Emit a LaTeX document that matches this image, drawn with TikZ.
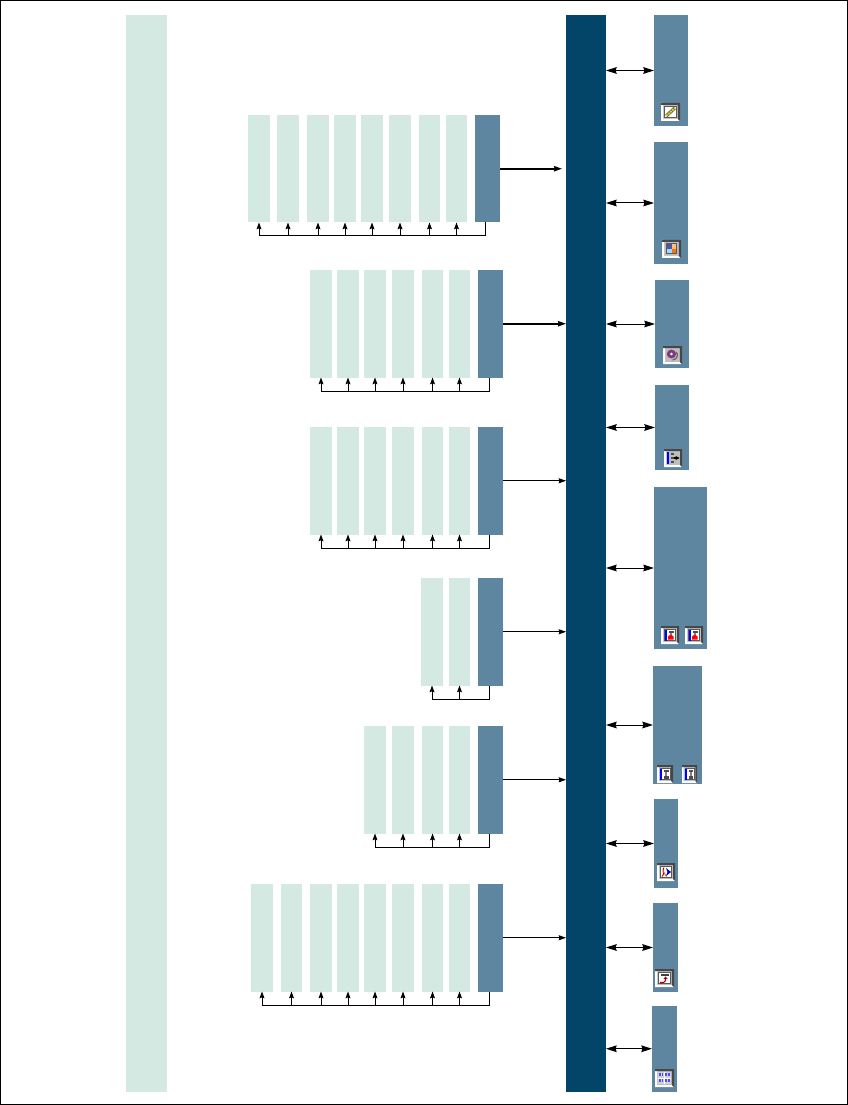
\documentclass[tikz,border=0pt]{standalone}
\usetikzlibrary{arrows.meta}
\definecolor{palegreen}{HTML}{D5E9E3}
\definecolor{steel}{HTML}{5F86A0}
\definecolor{navy}{HTML}{034569}
\definecolor{btngray}{HTML}{BEBEBE}
\tikzset{
  pale/.style={fill=palegreen, draw=none, inner sep=0pt, outer sep=0pt, anchor=north west},
  mid/.style={fill=steel, draw=none, inner sep=0pt, outer sep=0pt, anchor=north west},
  dark/.style={fill=navy, draw=none, inner sep=0pt, outer sep=0pt, anchor=north west},
  feed/.style={line width=0.75pt, -{Stealth[length=5pt,width=3.6pt,inset=0.6pt]}},
  feedline/.style={line width=0.75pt},
  outarrow/.style={line width=0.75pt, -{Stealth[length=5.5pt,width=3.8pt,inset=0.6pt]}},
  outthick/.style={line width=1.5pt, -{Stealth[length=6pt,width=4pt,inset=0.6pt]}},
  linkarrow/.style={line width=0.75pt, {Stealth[length=8pt,width=5pt,inset=0.8pt]}-{Stealth[length=8pt,width=5pt,inset=0.8pt]}},
  glyphbox/.style={draw=black!65, line width=0.5pt, fill=white},
}
% block from its left, top, right, bottom edges
\newcommand{\blk}[6]{\node[#1, minimum width={(#5-#3)*0.75pt}, minimum height={(#6-#4)*0.75pt}] (#2) at (#3,#4) {};}
% row of columns, steel head block and the line feeding back to the columns
\newcommand{\colrow}[6]{%
  \blk{mid}{#1d}{#3}{#2}{#4}{#2+107.5}
  \coordinate (#1f) at (#5,#2+121);
  \draw[feedline] (#1d.south -| #1f) -- (#1f);
  \foreach \xa/\xb [count=\i] in {#6} {
    \blk{pale}{#1c\i}{\xa}{#2}{\xb}{#2+107.5}
    \draw[feed] (#1c\i.south |- #1f) -- (#1c\i.south);
  }
  \draw[feedline] (#1f) -- (#1c1.south |- #1f);
}
% tool button, glyph drawn in a local 18 by 18 box
\newcommand{\toolbtn}[5]{%
  \begin{scope}[shift={(#1,#2)}, x=#3*0.75pt/18, y=-#4*0.75pt/18]
    \fill[btngray] (0,0) rectangle (18,18);
    \fill[white] (0,0) -- (0,18) -- (18,18) -- (16,16) -- (2,16) -- (2,0) -- cycle;
    \fill[black!72] (0,0) -- (18,0) -- (18,18) -- (16,16) -- (16,2) -- (0,2) -- cycle;
    #5
  \end{scope}}
\begin{document}
\begin{tikzpicture}[x=0.75pt, y=-0.75pt]
  \useasboundingbox (0,0) rectangle (848,1105);
  \fill[white] (0,0) rectangle (848,1105);
  % Outer frame
  \draw[line width=0.75pt] (0.5,0.5) rectangle (847.5,1104.5);
  % Tall bars
  \blk{pale}{leftbar}{126}{15}{167}{1091.5}
  \blk{dark}{bus}{566}{15}{606}{1091.5}
  % Rows of columns
  \colrow{rowa}{115}{475}{500}{485.5}{248/270,277/299,307/329,334/356,361/383,389/411,419/440,446/467}
  \colrow{rowb}{270}{478}{503}{489.5}{310/332,337/359,364/386,392/414,422/443,449/470}
  \colrow{rowc}{427}{478}{503}{489.5}{310/332,337/359,364/386,392/414,422/443,449/470}
  \colrow{rowd}{578}{478}{503}{489.5}{421/443,449/470}
  \colrow{rowe}{726}{478}{503}{489.5}{364/386,392/414,422/443,449/470}
  \colrow{rowf}{884}{478}{503}{489.5}{251/273,281/302,310/332,337/359,364/386,392/414,422/443,449/470}
  % Arrows from rows to bus
  \draw[outthick, shorten >=3pt] (rowad.east) -- (bus.west |- rowad.east);
  \draw[outthick] (rowbd.east) -- (bus.west |- rowbd.east);
  \foreach \r in {rowc,rowd,rowe,rowf} {
    \draw[outarrow] (\r d.east) -- (bus.west |- \r d.east);
  }
  % Panels on the right
  \blk{mid}{pana}{654}{15}{688}{126}
  \blk{mid}{panb}{654}{142}{688}{264}
  \blk{mid}{panc}{655}{280}{689}{368}
  \blk{mid}{pand}{655}{385}{689}{470}
  \blk{mid}{pane}{654}{487}{707}{649}
  \blk{mid}{panf}{653}{666}{702}{784}
  \blk{mid}{pang}{654}{799}{678}{888}
  \blk{mid}{panh}{653}{903}{678}{992}
  \blk{mid}{pani}{652}{1006}{677}{1091.5}
  \foreach \p in {a,b,c,d,e,f,g,h,i} {
    \draw[linkarrow] (bus.east |- pan\p.west) -- (pan\p.west);
  }
  % Buttons
  \toolbtn{661}{103}{19}{18}{
    \draw[glyphbox] (3.5,3.5) rectangle (14.5,14.5);
    \draw[black!70, line width=2.4pt] (5,13) -- (13,5);
    \draw[yellow!85!black, line width=1.5pt, dash pattern=on 1.5pt off 0.5pt] (5,13) -- (13,5);
  }
  \toolbtn{662}{240}{19}{18}{
    \fill[black!65] (3.5,3.5) rectangle (14.5,14.5);
    \fill[blue!35!gray] (4.5,4.5) rectangle (9,9);
    \fill[orange!50] (9,4.5) rectangle (13.5,9);
    \fill[cyan!40] (4.5,9) rectangle (9,13.5);
    \fill[orange!90!red] (9,9) rectangle (13.5,13.5);
  }
  \toolbtn{663}{346}{19}{18}{
    \fill[violet!55!gray] (8,8) circle (4.4);
    \fill[white] (8,8) circle (1.4);
    \draw[black!60, line width=0.9pt] (9,14) .. controls (14,13.5) and (14.5,8) .. (12.5,6);
  }
  \toolbtn{664}{449}{18}{18}{
    \fill[blue] (3,3) rectangle (5,15);
    \fill[black!70] (7,4) rectangle (10,6);
    \fill[black!70] (7,8) rectangle (10,10);
    \fill[black!70] (7,12) rectangle (10,14);
    \draw[line width=0.9pt, -{Stealth[length=3pt,width=3pt]}] (10,9) -- (15.5,9);
  }
  \foreach \bx in {661,685} {
    \toolbtn{\bx}{626}{18}{18}{
      \draw[glyphbox] (3.5,3.5) rectangle (14.5,14.5);
      \fill[blue] (3.5,3.5) rectangle (5.5,14.5);
      \fill[black!70] (7.5,5) rectangle (12.5,6.5);
      \fill[black!50] (9,6.5) rectangle (10.5,9);
      \fill[red] (7,10.5) -- (9.75,8.5) -- (12.5,10.5) -- (12.5,13.5) -- (7,13.5) -- cycle;
    }
  }
  \foreach \bx/\bw in {657/16,682/15} {
    \toolbtn{\bx}{765}{\bw}{18}{
      \draw[glyphbox] (3.5,3.5) rectangle (14.5,14.5);
      \fill[blue] (3.5,3.5) rectangle (5.5,14.5);
      \fill[black!70] (8,5) rectangle (13,6.5);
      \fill[black!50] (9.5,6.5) rectangle (11.5,11);
      \fill[black!70] (8,11) rectangle (13,13.5);
    }
  }
  \toolbtn{657}{863}{18}{18}{
    \draw[glyphbox] (3.5,3.5) rectangle (14.5,14.5);
    \draw[red!60!black, line width=0.7pt] (7,4.5) .. controls (4,8) and (9,10) .. (5,13.5);
    \draw[orange!70!red, line width=0.7pt] (6,8) -- (9.5,13.5);
    \fill[blue!75!black] (9,5) -- (14,9) -- (9,13) -- (10.5,9) -- cycle;
  }
  \toolbtn{655}{969}{19}{18}{
    \draw[glyphbox] (3.5,3.5) rectangle (14.5,14.5);
    \fill[black!75] (6,5) rectangle (13,6.8);
    \draw[red!70!black, line width=0.8pt] (4.5,13.5) -- (8,13.5) .. controls (10,13.5) and (10,11) .. (10,8.5);
    \fill[red!70!black] (8,10) -- (10,7.5) -- (12,10) -- cycle;
  }
  \toolbtn{655}{1069}{19}{18}{
    \fill[btngray!70!white] (3,3) rectangle (15,15);
    \draw[white, line width=0.7pt] (9,3) -- (9,15) (3,9) -- (15,9);
    \foreach \gx in {3.8,9.8} \foreach \gy in {4,10} {
      \fill[blue!70] (\gx,\gy) rectangle +(1.8,3);
      \fill[blue!70] (\gx+2.6,\gy) rectangle +(1.6,3);
    }
  }
\end{tikzpicture}
\end{document}
